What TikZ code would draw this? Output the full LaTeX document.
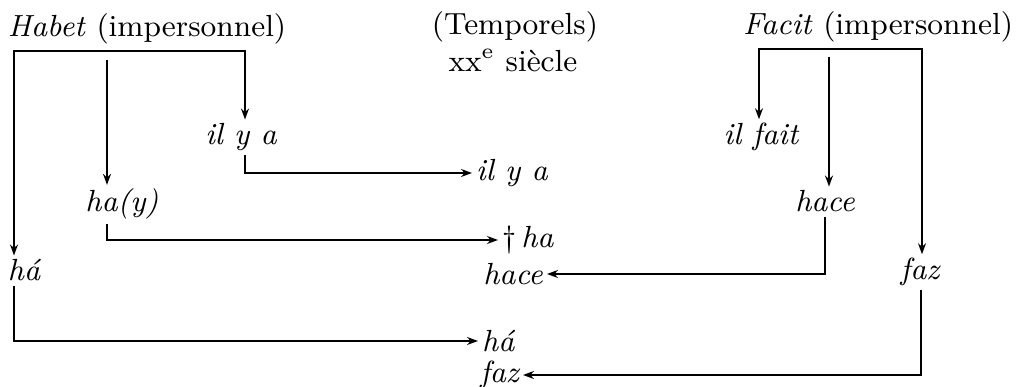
\documentclass[tikz,border=0pt]{standalone}
\usepackage{tikz}
\usetikzlibrary{positioning,arrows.meta,calc}
\tikzset{
  lbl/.style  ={inner sep=1pt, font=\fontsize{8.7}{10}\selectfont},
  word/.style ={lbl, font=\fontsize{8.7}{10}\selectfont\itshape},
  arr/.style  ={-{Stealth[length=1.1mm, width=0.8mm]}, line width=0.45pt},
  darr/.style ={{Stealth[length=1.1mm, width=0.8mm]}-{Stealth[length=1.1mm, width=0.8mm]}, line width=0.45pt},
}
\begin{document}
\begin{tikzpicture}
  \useasboundingbox (0,0) rectangle (10.18,3.87);
  % Titles
  \node[lbl, anchor=base] (habet)  at (1.47, 3.50) {\textit{Habet} (impersonnel)};
  \node[lbl, anchor=base] (temp)   at (5.15, 3.52) {(Temporels)};
  \node[lbl, anchor=base] (siecle) at (5.13, 3.15) {xx\textsuperscript{e} siècle};
  \node[lbl, anchor=base] (facit)  at (8.78, 3.52) {\textit{Facit} (impersonnel)};

  % Left column: Habet forms
  \node[word, anchor=base] (ilya1) at (2.41, 2.42) {il y a};
  \node[word, anchor=base] (hay)   at (1.22, 1.75) {ha(y)};
  \node[word, anchor=base] (ha1)   at (0.24, 1.06) {há};
  % Right column: Facit forms
  \node[word, anchor=base] (ilfait) at (7.61, 2.42) {il fait};
  \node[word, anchor=base] (hace1)  at (8.25, 1.75) {hace};
  \node[word, anchor=base] (faz1)   at (9.20, 1.07) {faz};

  % Middle column: today
  \node[word, anchor=west] (ilya2) at (4.72, 2.14) {il y a};
  \node[lbl,  anchor=west] (dha)   at (4.98, 1.47) {\textdagger\,\textit{ha}};
  \node[word, anchor=east] (hace2) at (5.47, 1.13) {hace};
  \node[word, anchor=west] (ha2)   at (4.78, 0.46) {há};
  \node[word, anchor=east] (faz2)  at (5.23, 0.12) {faz};

  % Habet bracket
  \draw[darr] ([xshift=-1.0mm]ha1.north) |- ([yshift=-0.2mm]habet.south)
              -| ([xshift=0.4mm]ilya1.north);
  \draw[arr] ([xshift=-1.5mm, yshift=12.5mm]hay.north) -- ([xshift=-1.5mm]hay.north);

  % Facit bracket
  \draw[darr] ([xshift=-0.2mm]ilfait.north) |- ([yshift=-0.2mm]facit.south)
              -| ([xshift=0.2mm]faz1.north);
  \draw[arr] ([xshift=0.4mm, yshift=13mm]hace1.north) -- ([xshift=0.4mm]hace1.north);

  % Into the middle column
  \draw[arr] ([xshift=0.4mm]ilya1.south) |- (ilya2.west);
  \draw[arr] ([xshift=-1.5mm]hay.south)  |- (dha.west);
  \draw[arr] ([xshift=-1.0mm]ha1.south)  |- (ha2.west);
  \draw[arr] (hace1.south)               |- (hace2.east);
  \draw[arr] ([xshift=0.1mm]faz1.south)  |- (faz2.east);
\end{tikzpicture}
\end{document}
